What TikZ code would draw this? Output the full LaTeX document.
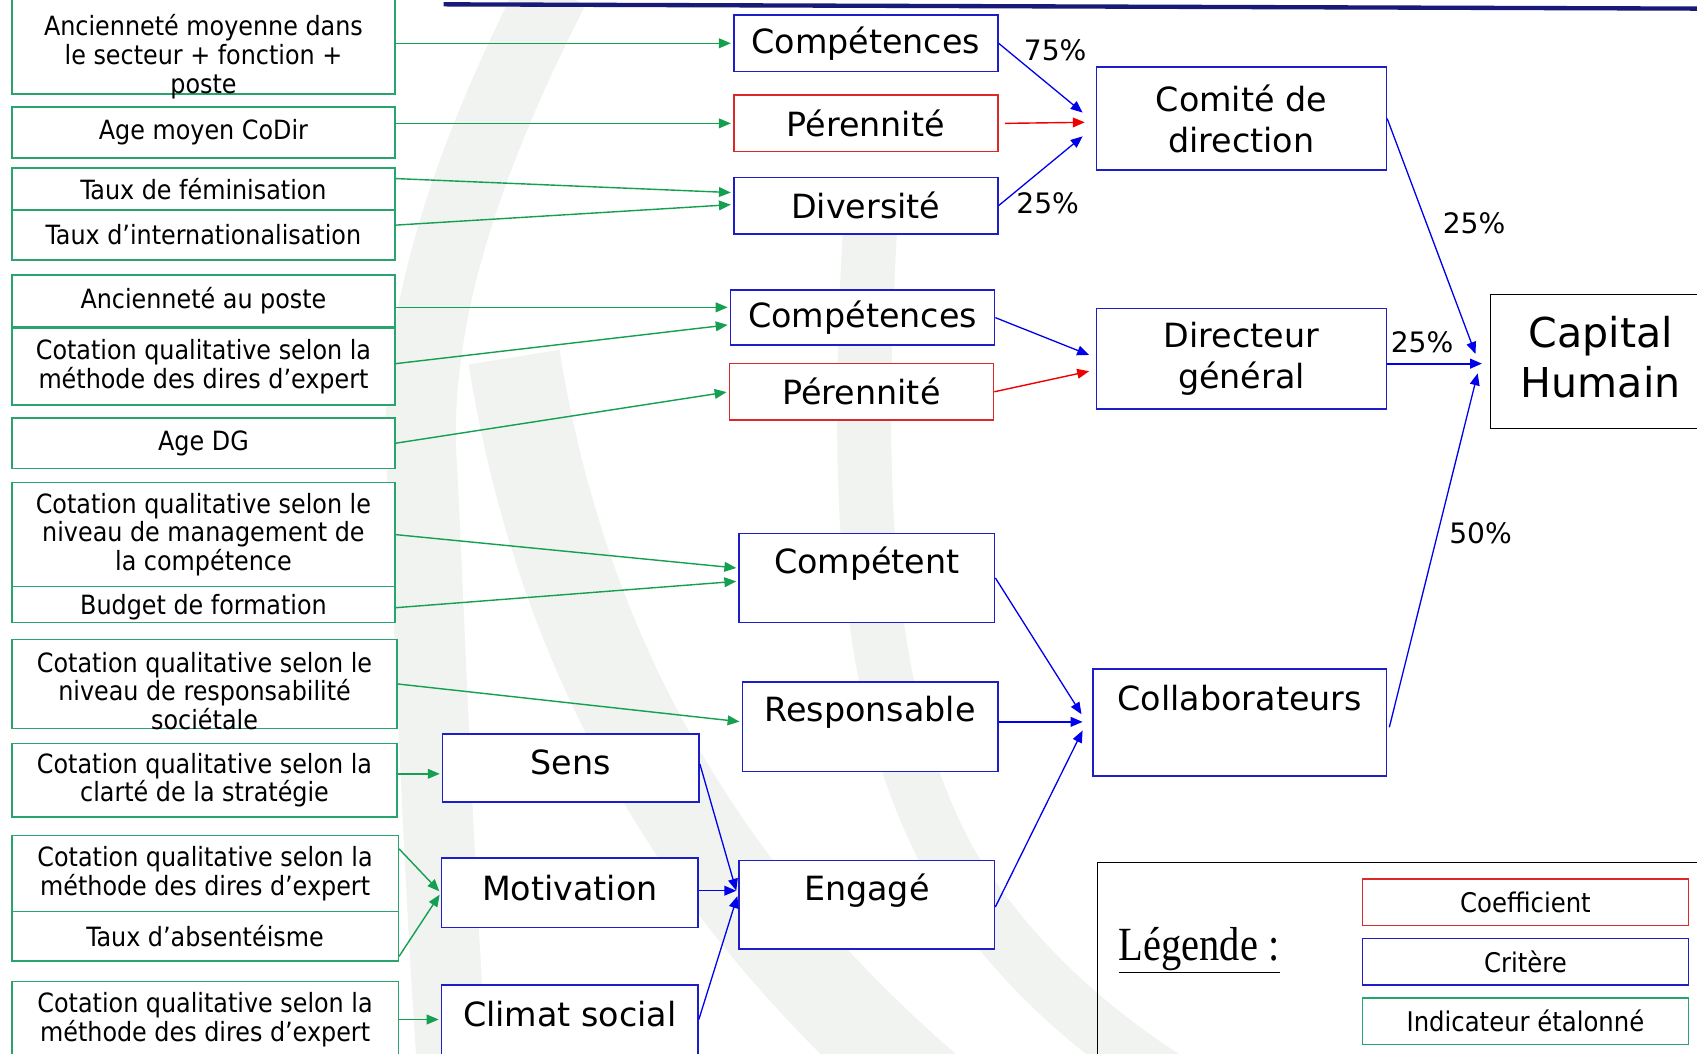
\documentclass[tikz,border=0pt]{standalone}
\usepackage{fontspec}
\setmainfont{DejaVu Sans}
\newfontfamily\condf{DejaVu Sans Condensed}
\newfontfamily\legf[FakeStretch=0.85]{Liberation Serif}
\usetikzlibrary{arrows.meta,calc}
\definecolor{bgreen}{RGB}{40,165,110}
\definecolor{agreen}{RGB}{20,160,80}
\definecolor{cblue}{RGB}{30,30,200}
\definecolor{ablue}{RGB}{0,0,235}
\definecolor{cred}{RGB}{220,40,40}
\definecolor{ared}{RGB}{240,0,0}
\definecolor{navy}{RGB}{25,25,120}
\definecolor{wmark}{RGB}{240,243,240}
\tikzset{
 lbox/.style={draw=bgreen, line width=1.4pt, fill=white, rectangle, inner sep=0pt, minimum width=354pt, align=center, font=\condf\fontsize{24.5}{26.5}\selectfont},
 ltext/.style={inner sep=0pt, align=center, font=\condf\fontsize{24.5}{26.5}\selectfont},
 crit/.style={draw=cblue, line width=1.4pt, fill=white, rectangle, inner sep=0pt, align=center, font=\fontsize{30.8}{38}\selectfont},
 coef/.style={crit, draw=cred},
 ctext/.style={inner sep=0pt, align=center, font=\fontsize{30.8}{38}\selectfont},
 pct/.style={inner sep=0pt, font=\fontsize{26}{30}\selectfont},
 legbox/.style={rectangle, line width=1.4pt, fill=white, inner sep=0pt, minimum width=301pt, minimum height=43pt, font=\condf\fontsize{25}{28}\selectfont},
 wm/.style={draw=wmark, line cap=butt},
 garrow/.style={draw=agreen, line width=1.3pt, shorten >=2pt, -{Triangle[length=11pt,width=9pt]}},
 barrow/.style={draw=ablue, line width=1.2pt, -{Triangle[length=11pt,width=9pt]}},
 rarrow/.style={draw=ared, line width=1.3pt, -{Triangle[length=11pt,width=9pt]}},
}
\begin{document}
\begin{tikzpicture}[x=1pt,y=-1pt]
\useasboundingbox (0,0) rectangle (1568,973);
\clip (0,0) rectangle (1568,973);
\fill[white] (0,0) rectangle (1568,973);
% faint watermark (logo arcs)
\draw[wm, line width=65pt] (512,-10) .. controls (430,150) and (380,300) .. (390,434) .. controls (398,600) and (405,800) .. (418,990);
\draw[wm, line width=85pt] (475,330) .. controls (520,610) and (650,830) .. (860,1010);
\draw[wm, line width=50pt] (805,190) .. controls (792,420) and (790,640) .. (880,800) .. controls (930,880) and (1000,950) .. (1100,1010);
% top line
\draw[navy, line width=4pt] (410,4) -- (1580,8);

% left indicator boxes
\node[lbox, minimum height=92pt] (a1) at (188,41) {};
\node[ltext] (a1t) at (188,52.5) {Ancienneté moyenne dans\\le secteur + fonction +\\poste};
\node[lbox, minimum height=47pt] (a2) at (188,122.5) {Age moyen CoDir};
\node[lbox, minimum height=39pt] (fem) at (188,174.5) {Taux de féminisation};
\node[lbox, minimum height=46pt] (int) at (188,217) {Taux d’internationalisation};
\node[lbox, minimum height=48pt] (anc) at (188,278) {Ancienneté au poste};
\node[lbox, minimum height=71pt] (cot1) at (188,338.5) {Cotation qualitative selon la\\méthode des dires d’expert};
\node[lbox, minimum height=47pt] (agedg) at (188,409.5) {Age DG};
\node[lbox, minimum height=96pt] (mgmt) at (188,494) {Cotation qualitative selon le\\niveau de management de\\la compétence};
\node[lbox, minimum height=33pt] (budg) at (188,558.5) {};
\node[ltext] (budgt) at (188,561) {Budget de formation};
\node[lbox, minimum width=356pt, minimum height=82pt] (rsoc) at (189,632) {};
\node[ltext] (rsoct) at (189,638.5) {Cotation qualitative selon le\\niveau de responsabilité\\sociétale};
\node[lbox, minimum width=356pt, minimum height=68pt] (clar) at (189,721) {Cotation qualitative selon la\\clarté de la stratégie};
\node[lbox, minimum width=357pt, minimum height=70pt] (m1) at (189.5,807) {Cotation qualitative selon la\\méthode des dires d’expert};
\node[lbox, minimum width=357pt, minimum height=46pt] (abs) at (189.5,865) {Taux d’absentéisme};
\node[lbox, minimum width=357pt, minimum height=78pt] (cot3) at (189.5,946) {};
\node[ltext] (cot3t) at (189.5,942) {Cotation qualitative selon la\\méthode des dires d’expert};

% criteria
\node[crit, minimum width=244pt, minimum height=52pt] (c1) at (800,40) {Compétences};
\node[coef, minimum width=244pt, minimum height=52pt] (p1) at (800,114) {Pérennité};
\node[crit, minimum width=244pt, minimum height=52pt] (d1) at (800,190) {Diversité};
\node[crit, minimum width=244pt, minimum height=51pt] (c2) at (797,293.5) {Compétences};
\node[coef, minimum width=244pt, minimum height=52pt] (p2) at (796,362) {Pérennité};
\node[crit, minimum width=236pt, minimum height=82pt] (cpt) at (801,534) {};
\node[ctext] (cptt) at (801,521) {Compétent};
\node[crit, minimum width=236pt, minimum height=83pt] (rsp) at (804,671.5) {};
\node[ctext] (rspt) at (804,658) {Responsable};
\node[crit, minimum width=236pt, minimum height=82pt] (eng) at (801,836) {};
\node[ctext] (engt) at (801,823) {Engagé};
\node[crit, minimum width=237pt, minimum height=63pt] (sens) at (527.5,709.5) {};
\node[ctext] (senst) at (527.5,704) {Sens};
\node[crit, minimum width=237pt, minimum height=64pt] (mot) at (526.5,825) {};
\node[ctext] (mott) at (526.5,821) {Motivation};
\node[crit, minimum width=237pt, minimum height=75pt] (clim) at (526.5,947.5) {};
\node[ctext] (climt) at (526.5,937) {Climat social};

% right column
\node[crit, minimum width=268pt, minimum height=95pt] (cdd) at (1147,109.5) {Comité de\\direction};
\node[crit, minimum width=268pt, minimum height=93pt] (dg) at (1147,331.5) {Directeur\\général};
\node[crit, minimum width=271pt, minimum height=99pt] (col) at (1145.5,667.5) {};
\node[ctext] (colt) at (1145.5,645) {Collaborateurs};
\node[draw=black, line width=1.4pt, fill=white, rectangle, inner sep=0pt, minimum width=213pt, minimum height=124pt] (cap) at (1483.5,334) {};
\node[inner sep=0pt, align=center, font=\fontsize{38}{46}\selectfont] (capt) at (1479,330) {Capital\\Humain};

% legend
\draw[black, line width=1.4pt] (1014,797) rectangle (1600,1000);
\node[inner sep=0pt, font=\legf\fontsize{44}{50}\selectfont] (legt) at (1108,878) {\underline{Légende :}};
\node[legbox, draw=cred] (lcoef) at (1409.5,833.5) {Coefficient};
\node[legbox, draw=cblue] (lcrit) at (1409.5,888.5) {Critère};
\node[legbox, draw=bgreen] (lind) at (1409.5,943.5) {Indicateur étalonné};

% green arrows
\draw[garrow] (a1.east |- c1.west) -- (c1.west);
\draw[garrow] (a2.east |- p1.west) -- (p1.west);
\draw[garrow] ([yshift=9.5pt]fem.east) -- ([yshift=12pt]d1.west);
\draw[garrow] ([yshift=9pt]int.east) -- ([yshift=1pt]d1.west);
\draw[garrow] ([yshift=-6pt]anc.east) -- ([yshift=9.5pt]c2.west);
\draw[garrow] ([yshift=2.5pt]cot1.east) -- ([yshift=-6.5pt]c2.west);
\draw[garrow] (agedg.east) -- (p2.west);
\draw[garrow] (mgmt.east) -- ([yshift=9pt]cpt.west);
\draw[garrow] ([yshift=-3pt]budg.east) -- ([yshift=-3pt]cpt.west);
\draw[garrow] (rsoc.east) -- ([yshift=4.5pt]rsp.west);
\draw[garrow] ([yshift=6pt]clar.east) -- ([yshift=-5.5pt]sens.west);
\draw[garrow] ([yshift=-13pt]m1.north east) -- (mot.west);
\draw[garrow] ([yshift=5pt]abs.south east) -- (mot.west);
\draw[garrow] ([yshift=4pt]cot3.east) -- ([yshift=5.5pt]clim.west);

% blue / red arrows
\draw[barrow] (c1.east) -- ([xshift=-12pt,yshift=5.5pt]cdd.west);
\draw[rarrow] ([xshift=6pt]p1.east) -- ([xshift=-10pt,yshift=-3.5pt]cdd.west);
\draw[barrow] (d1.east) -- ([xshift=-12pt,yshift=-16.5pt]cdd.west);
\draw[barrow] (cdd.east) -- ([xshift=-13pt,yshift=7pt]cap.west);
\draw[barrow] (c2.east) -- ([xshift=-6pt,yshift=3.5pt]dg.west);
\draw[rarrow] (p2.east) -- ([xshift=-6pt,yshift=-11.5pt]dg.west);
\draw[barrow, line width=1.8pt] ([yshift=-4.5pt]dg.east) -- ([xshift=-7pt,yshift=-2pt]cap.west);
\draw[barrow] ([xshift=2pt,yshift=-4.5pt]col.east) -- ([xshift=-11pt,yshift=-11pt]cap.west);
\draw[barrow] (cpt.east) -- ([xshift=-10pt,yshift=7.5pt]col.west);
\draw[barrow] ([yshift=4.5pt]rsp.east) -- ([xshift=-9pt,yshift=0.5pt]col.west);
\draw[barrow] ([yshift=-2pt]eng.east) -- ([xshift=-9pt,yshift=-7.5pt]col.west);
\draw[barrow] ([yshift=3.5pt]sens.east) -- ([xshift=-2pt,yshift=13pt]eng.west);
\draw[barrow] ([yshift=2pt]mot.east) -- ([xshift=-2pt,yshift=13pt]eng.west);
\draw[barrow] ([yshift=5.5pt]clim.east) -- ([xshift=-1pt,yshift=8pt]eng.west);

% percentages
\node[pct] (l75) at (975,46) {75\%};
\node[pct] (l25a) at (968,188) {25\%};
\node[pct] (l25b) at (1362,206) {25\%};
\node[pct] (l25c) at (1314,316) {25\%};
\node[pct] (l50) at (1368,493) {50\%};
\end{tikzpicture}
\end{document}
